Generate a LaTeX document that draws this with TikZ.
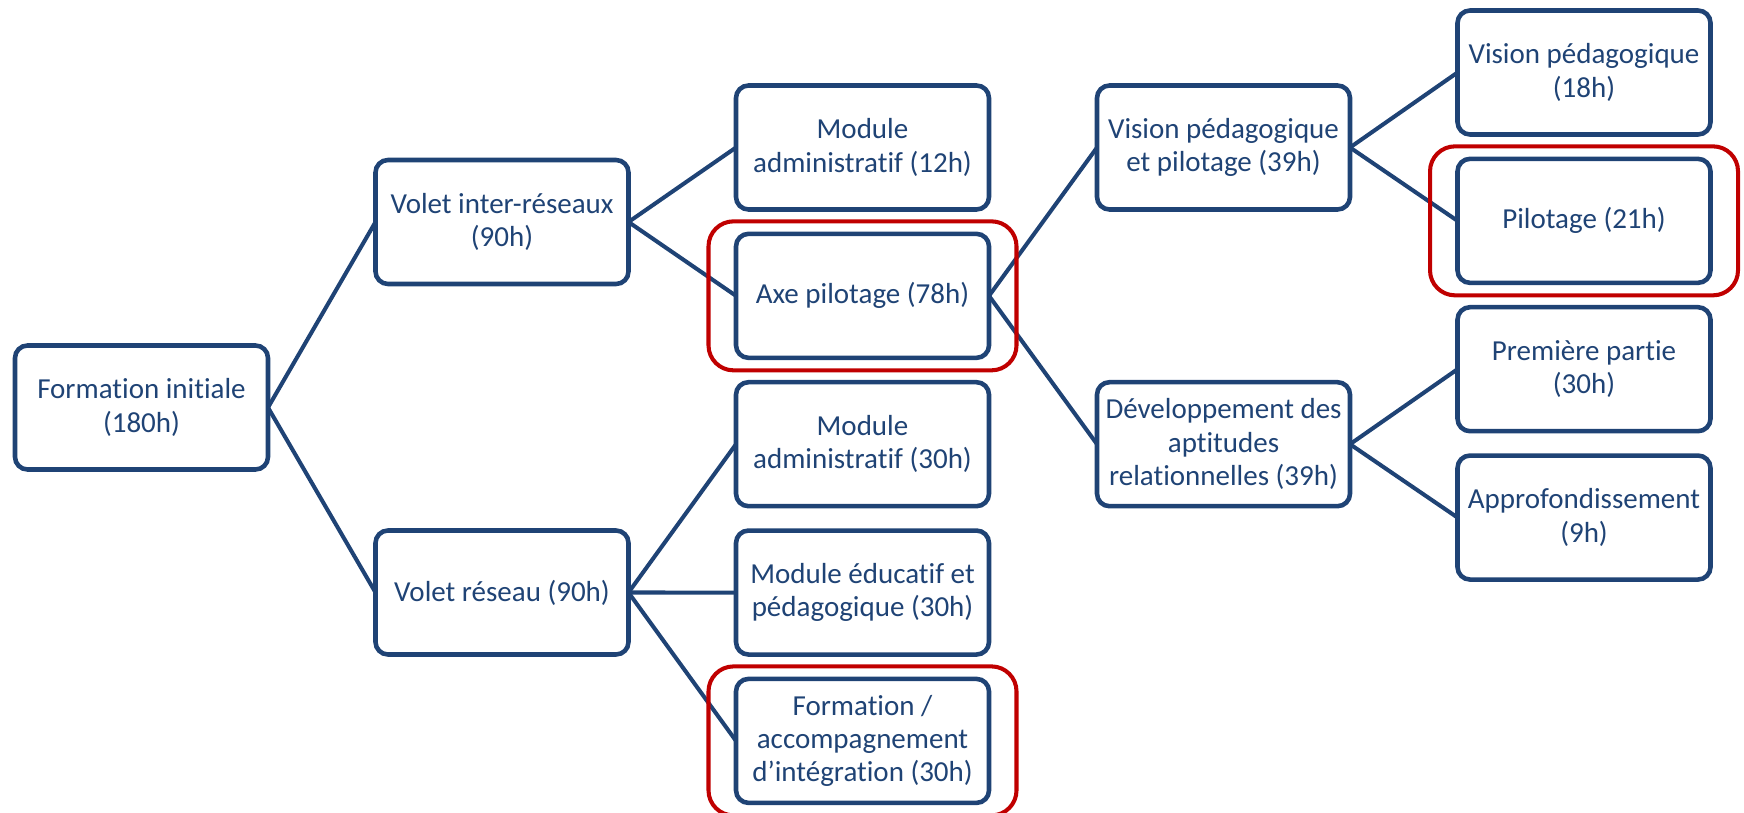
\documentclass[tikz,border=0pt]{standalone}
\usepackage{fontspec}
\setmainfont{Carlito}[Ligatures=NoCommon]
\usetikzlibrary{positioning,fit}
\definecolor{boxblue}{RGB}{31,67,117}
\definecolor{hired}{RGB}{192,0,0}

\begin{document}
\begin{tikzpicture}
[unit/.style={rectangle, draw=boxblue, line width=2.6pt, rounded corners=0.25cm,
  minimum width=5.06cm, minimum height=2.48cm, align=center, text=boxblue,
  font=\fontsize{16.5}{19}\selectfont, inner sep=2pt, outer sep=0pt},
 link/.style={draw=boxblue, line width=2.3pt},
 hilite/.style={rectangle, draw=hired, line width=2.3pt, rounded corners=0.5cm,
  inner xsep=0.55cm, inner ysep=0.25cm, outer sep=0pt},
 on grid, node distance=2.967cm]
  \useasboundingbox (0,0) rectangle (34.88,-16.26);
  % level 0 and 1
  \node[unit] (fi) at (2.83,-8.15) {Formation initiale\\(180h)};
  \node[unit, above right=3.71cm and 7.21cm of fi] (vir) {Volet inter-réseaux\\(90h)};
  \node[unit, below right=3.70cm and 7.21cm of fi] (vr) {Volet réseau (90h)};
  % level 2
  \node[unit, above right=1.49cm and 7.21cm of vir] (mod12) {Module\\administratif (12h)};
  \node[unit, below=of mod12] (axe) {Axe pilotage (78h)};
  \node[unit, below=of axe] (mod30) {Module\\administratif (30h)};
  \node[unit, below=of mod30] (edu) {Module éducatif et\\pédagogique (30h)};
  \node[unit, below=of edu] (integ) {Formation /\\accompagnement\\d’intégration (30h)};
  % level 3
  \node[unit, right=7.22cm of mod12] (vpp) {Vision pédagogique\\et pilotage (39h)};
  \node[unit, right=7.22cm of mod30] (dar) {Développement des\\aptitudes\\relationnelles (39h)};
  % level 4
  \node[unit, above right=1.5cm and 7.21cm of vpp] (vp) {Vision pédagogique\\(18h)};
  \node[unit, below=of vp] (pil) {Pilotage (21h)};
  \node[unit, below=of pil] (pp) {Première partie\\(30h)};
  \node[unit, below=of pp] (appro) {Approfondissement\\(9h)};
  % connectors
  \foreach \a/\b in {fi/vir, fi/vr, vir/mod12, vir/axe, vr/mod30, vr/edu, vr/integ,
    axe/vpp, axe/dar, vpp/vp, vpp/pil, dar/pp, dar/appro}
    \draw[link] (\a.east) -- (\b.west);
  % highlights
  \node[hilite, fit=(axe)] (axehl) {};
  \node[hilite, fit=(integ)] (integhl) {};
  \node[hilite, fit=(pil)] (pilhl) {};
\end{tikzpicture}
\end{document}
